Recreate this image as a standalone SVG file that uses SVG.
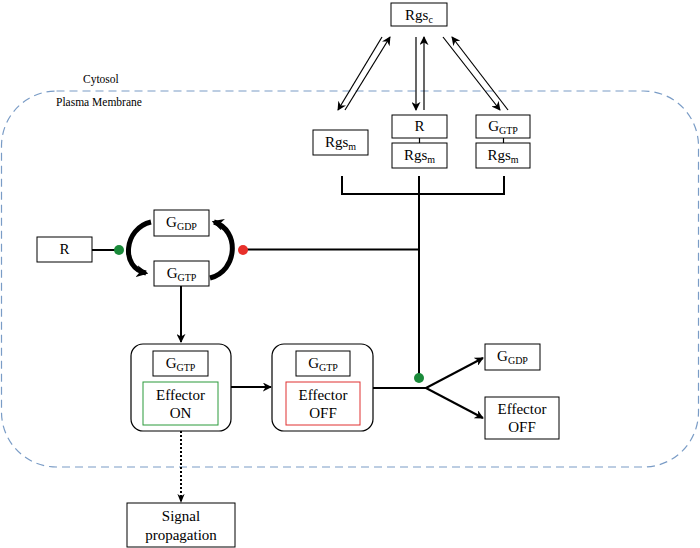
<svg xmlns="http://www.w3.org/2000/svg" width="700" height="548" viewBox="0 0 700 548" font-family="'Liberation Serif', 'Times New Roman', 'DejaVu Serif', serif">
<defs>
<marker id="ah" viewBox="0 0 10 10" refX="9" refY="5" markerWidth="9" markerHeight="9" markerUnits="userSpaceOnUse" orient="auto">
<path d="M0,0 L10,5 L0,10 L3,5 z" fill="#000"/>
</marker>
<marker id="ahb" viewBox="0 0 10 10" refX="8" refY="5" markerWidth="12" markerHeight="12" markerUnits="userSpaceOnUse" orient="auto">
<path d="M0,0 L10,5 L0,10 L3,5 z" fill="#000"/>
</marker>
<marker id="ahd" viewBox="0 0 10 10" refX="9" refY="5" markerWidth="9" markerHeight="9" markerUnits="userSpaceOnUse" orient="auto">
<path d="M0,1 L10,5 L0,9 L3,5 z" fill="#000"/>
</marker>
</defs>
<style>
.box{fill:#fff;stroke:#000;stroke-width:1}
.t{font-family:'Liberation Serif','Times New Roman','DejaVu Serif',serif;font-size:15px;fill:#000;text-anchor:middle}
.s{font-size:10px}
.lbl{font-family:'Liberation Serif','Times New Roman','DejaVu Serif',serif;font-size:11.5px;fill:#000}
.ln{fill:none;stroke:#000;stroke-width:1.2}
.thk{fill:none;stroke:#000;stroke-width:2}
.ar{fill:none;stroke:#000;stroke-width:1.2;marker-end:url(#ah)}
.ar2{fill:none;stroke:#000;stroke-width:2;marker-end:url(#ah)}
.cont{fill:#fff;stroke:#000;stroke-width:1.2}
</style>
<rect width="700" height="548" fill="#fff"/>
<rect id="membrane" x="1.5" y="91" width="697" height="376" rx="55" ry="55" fill="none" stroke="#7a9cc6" stroke-width="1.2" stroke-dasharray="8,5"/>
<text class="lbl" x="83" y="83">Cytosol</text>
<text class="lbl" x="56" y="106">Plasma Membrane</text>

<g id="connectors">
<line class="ar" x1="382" y1="37" x2="338" y2="110"/>
<line class="ar" x1="345" y1="110" x2="390" y2="37"/>
<line class="ar" x1="416" y1="37" x2="416" y2="110"/>
<line class="ar" x1="424" y1="110" x2="424" y2="37"/>
<line class="ar" x1="443" y1="37" x2="500" y2="110"/>
<line class="ar" x1="508" y1="110" x2="452" y2="37"/>
<line class="ln" x1="419.5" y1="138" x2="419.5" y2="143"/>
<line class="ln" x1="503.5" y1="138" x2="503.5" y2="143"/>
<path class="thk" d="M342,176 V194 H504 V176 M419,176 V378"/>
<line class="thk" x1="243" y1="249.5" x2="419" y2="249.5"/>
<line class="thk" x1="92" y1="250" x2="119" y2="250"/>
<path fill="none" stroke="#000" stroke-width="5" marker-end="url(#ahb)" d="M151,222 C124,228 120,268 146,273"/>
<path fill="none" stroke="#000" stroke-width="5" marker-end="url(#ahb)" d="M210,278 C238,271 240,230 214,222"/>
<line class="ar2" x1="181" y1="286" x2="181" y2="342"/>
<line class="ar2" x1="231" y1="387" x2="271" y2="387"/>
<path class="thk" d="M373,388 H426"/>
<line class="ar2" x1="426" y1="388" x2="483" y2="358"/>
<line class="ar2" x1="426" y1="388" x2="483" y2="418"/>
<line fill="none" stroke="#000" stroke-width="2" stroke-dasharray="2,2" marker-end="url(#ahd)" x1="181" y1="431" x2="181" y2="502"/>
<circle cx="119" cy="250" r="5" fill="#1a8a3a"/>
<circle cx="243" cy="250" r="5" fill="#e8302a"/>
<circle cx="419" cy="378" r="5" fill="#1a8a3a"/>
</g>

<g id="rgsc"><rect class="box" x="391" y="3" width="56" height="23"/><text class="t" x="419" y="20">Rgs<tspan class="s" dy="3">c</tspan></text></g>
<g id="rgsm1"><rect class="box" x="313" y="130" width="55" height="25"/><text class="t" x="340.5" y="147">Rgs<tspan class="s" dy="3">m</tspan></text></g>
<g id="r2"><rect class="box" x="392" y="115" width="55" height="23"/><text class="t" x="419.5" y="131">R</text></g>
<g id="rgsm2"><rect class="box" x="392" y="143" width="55" height="25"/><text class="t" x="419.5" y="160">Rgs<tspan class="s" dy="3">m</tspan></text></g>
<g id="ggtp2"><rect class="box" x="476" y="115" width="54" height="23"/><text class="t" x="503" y="131">G<tspan class="s" dy="3">GTP</tspan></text></g>
<g id="rgsm3"><rect class="box" x="476" y="143" width="54" height="25"/><text class="t" x="503" y="160">Rgs<tspan class="s" dy="3">m</tspan></text></g>

<g id="r1"><rect class="box" x="37" y="237" width="55" height="25"/><text class="t" x="64.5" y="254">R</text></g>
<g id="ggdp1"><rect class="box" x="154" y="210" width="55" height="26"/><text class="t" x="181.5" y="227">G<tspan class="s" dy="3">GDP</tspan></text></g>
<g id="ggtp1"><rect class="box" x="154" y="261" width="55" height="25"/><text class="t" x="181.5" y="278">G<tspan class="s" dy="3">GTP</tspan></text></g>

<g id="effon">
<rect class="cont" x="131" y="344" width="100" height="87" rx="12" ry="12"/>
<rect class="box" x="153" y="351" width="55" height="25"/><text class="t" x="180.5" y="368">G<tspan class="s" dy="3">GTP</tspan></text>
<rect x="143" y="382" width="75" height="43" fill="#fff" stroke="#2a9a3a" stroke-width="1"/>
<text class="t" x="180.5" y="400">Effector</text><text class="t" x="180.5" y="418">ON</text>
</g>
<g id="effoff">
<rect class="cont" x="272" y="344" width="101" height="87" rx="12" ry="12"/>
<rect class="box" x="296" y="351" width="54" height="25"/><text class="t" x="323" y="368">G<tspan class="s" dy="3">GTP</tspan></text>
<rect x="286" y="382" width="74" height="43" fill="#fff" stroke="#e03030" stroke-width="1"/>
<text class="t" x="323" y="400">Effector</text><text class="t" x="323" y="418">OFF</text>
</g>
<g id="ggdp2"><rect class="box" x="485" y="344" width="55" height="26"/><text class="t" x="512.5" y="361">G<tspan class="s" dy="3">GDP</tspan></text></g>
<g id="effoff2"><rect class="box" x="485" y="397" width="74" height="42"/><text class="t" x="522" y="414">Effector</text><text class="t" x="522" y="432">OFF</text></g>
<g id="signal"><rect class="box" x="127" y="503" width="108" height="44"/><text class="t" x="181" y="521">Signal</text><text class="t" x="181" y="540">propagation</text></g>
</svg>
